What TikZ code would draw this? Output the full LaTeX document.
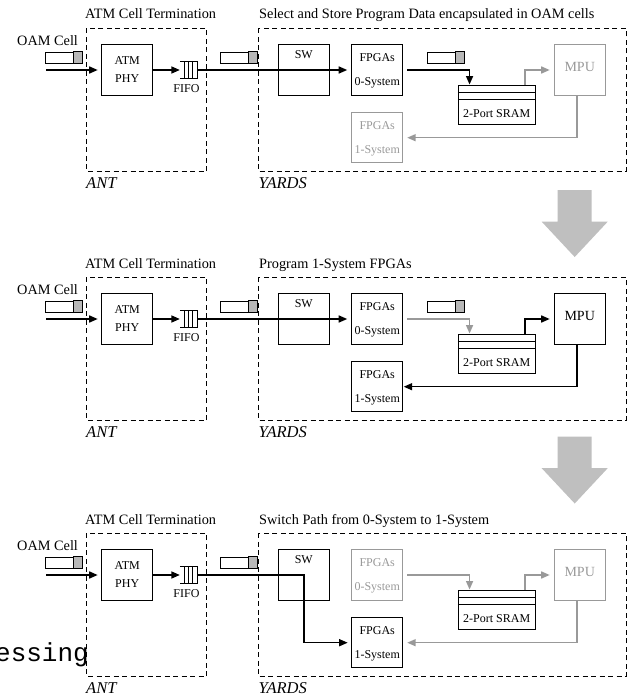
\documentclass[tikz,border=0pt]{standalone}
\usepackage{fontspec}
\setmainfont{Liberation Serif}
\newfontfamily\monofont{Liberation Mono}
\usepackage{xcolor}
\usepackage{tikz}
\usetikzlibrary{arrows.meta}
\definecolor{fadegray}{gray}{0.6}
\definecolor{cellgray}{gray}{0.72}
\definecolor{biggray}{gray}{0.75}

\begin{document}
\begin{tikzpicture}[x=1pt,y=-1pt,>={Triangle[length=8.5pt,width=7pt]},
frame/.style={line width=0.9pt,dash pattern=on 5pt off 3.5pt},
wire/.style={line width=1pt},
blk/.style={draw,line width=1pt,minimum width=51pt,minimum height=50.5pt,inner sep=0pt,align=center,text depth=0pt,font=\fontsize{12}{24}\selectfont},
off/.style={draw=fadegray,text=fadegray},
flow/.style={line width=1.5pt,->},
cell/.style={draw,line width=1pt,minimum width=36.5pt,minimum height=11pt,inner sep=0pt},
cellend/.style={draw,line width=1pt,fill=cellgray},
fifo/.style={inner sep=0pt,minimum width=17.3pt,minimum height=16pt},
boxtext/.style={font=\fontsize{12}{14}\selectfont},
title/.style={anchor=base west,inner sep=0pt,font=\fontsize{14.3}{17}\selectfont},
part/.style={anchor=base west,inner sep=0pt,font=\fontsize{16.5}{20}\selectfont\itshape},
bigarrow/.style={fill=biggray}]
\useasboundingbox(0,0)rectangle(631,696);

% step 1: select and store
\begin{scope}
\node[title](tantA)at(85,19){ATM Cell Termination};
\node[title](tyardsA)at(259,19){Select and Store Program Data encapsulated in OAM cells};
\node[title](toamA)at(17,45){OAM Cell};
\draw[frame](86.7,28.3)rectangle(206.7,171.5);
\draw[frame](258.3,28.3)rectangle(626,171.5);
\node[part](antA)at(86,188){ANT};
\node[part](yardsA)at(258.3,188){YARDS};
\node[cell](cellA1)at(64,57.7){};
\draw[cellend]([xshift=-9pt]cellA1.north east)rectangle(cellA1.south east);
\node[cell](cellA2)at(238.3,57.7){};
\draw[cellend]([xshift=-9pt]cellA2.north east)rectangle(cellA2.south east);
\node[cell](cellA3)at(445.6,57.5){};
\draw[cellend]([xshift=-9pt]cellA3.north east)rectangle(cellA3.south east);
\node[blk,font=\fontsize{12}{18}\selectfont](phyA)at(127.2,70){ATM\\PHY};
\node[fifo](fifoA)at(188.7,70){};
\draw[wire](fifoA.north west)--(fifoA.north east)--(fifoA.south east)--(fifoA.south west);
\foreach \dx in {4.5,8.8,13}\draw[wire]([xshift=\dx pt]fifoA.north west)--([xshift=\dx pt]fifoA.south west);
\node[boxtext,anchor=base](fifotA)at(186.5,92.7){FIFO};
\node[blk,label={[boxtext,anchor=north,yshift=-2.5pt]north:SW}](swA)at(303.8,70){};
\node[blk](fpgaA0)at(377.2,70){FPGAs\\0-System};
\node[blk,off](fpgaA1)at(377.2,137.7){FPGAs\\1-System};
\node[blk,off,font=\fontsize{14}{17}\selectfont,text depth=6.6pt](mpuA)at(579.7,70){MPU};
\node[blk,minimum width=76.7pt,minimum height=39pt,label={[boxtext,anchor=base,yshift=7pt]south:2-Port SRAM}](sramA)at(496.7,104.5){};
\draw[wire]([yshift=-8.3pt]sramA.north west)--([yshift=-8.3pt]sramA.north east)
([yshift=-15pt]sramA.north west)--([yshift=-15pt]sramA.north east);
\coordinate(inA)at(46,70);
\draw[flow,shorten >=3.5pt](inA)--(phyA.west);
\draw[flow](phyA.east)--(fifoA.west);
\draw[flow,shorten >=4pt](fifoA.east)--(fpgaA0.west);
\draw[flow]([xshift=4pt]fpgaA0.east)-|([xshift=11.7pt]sramA.north west);
\draw[flow,fadegray]([xshift=-10.7pt]sramA.north east)|-([xshift=-4pt]mpuA.west);
\draw[flow,fadegray]([xshift=-2.5pt]mpuA.south)|-([xshift=4pt]fpgaA1.east);
\end{scope}
\fill[bigarrow](557.7,190)--(591.7,190)--(591.7,221.7)--(607.7,221.7)--(574.7,257)--(541.7,221.7)--(557.7,221.7)--cycle;

% step 2: program 1-system
\begin{scope}[shift={(0,249)}]
\node[title](tantB)at(85,19){ATM Cell Termination};
\node[title](tyardsB)at(259,19){Program 1-System FPGAs};
\node[title](toamB)at(17,45){OAM Cell};
\draw[frame](86.7,28.3)rectangle(206.7,171.5);
\draw[frame](258.3,28.3)rectangle(626,171.5);
\node[part](antB)at(86,188){ANT};
\node[part](yardsB)at(258.3,188){YARDS};
\node[cell](cellB1)at(64,57.7){};
\draw[cellend]([xshift=-9pt]cellB1.north east)rectangle(cellB1.south east);
\node[cell](cellB2)at(238.3,57.7){};
\draw[cellend]([xshift=-9pt]cellB2.north east)rectangle(cellB2.south east);
\node[cell](cellB3)at(445.6,57.5){};
\draw[cellend]([xshift=-9pt]cellB3.north east)rectangle(cellB3.south east);
\node[blk,font=\fontsize{12}{18}\selectfont](phyB)at(127.2,70){ATM\\PHY};
\node[fifo](fifoB)at(188.7,70){};
\draw[wire](fifoB.north west)--(fifoB.north east)--(fifoB.south east)--(fifoB.south west);
\foreach \dx in {4.5,8.8,13}\draw[wire]([xshift=\dx pt]fifoB.north west)--([xshift=\dx pt]fifoB.south west);
\node[boxtext,anchor=base](fifotB)at(186.5,92.7){FIFO};
\node[blk,label={[boxtext,anchor=north,yshift=-2.5pt]north:SW}](swB)at(303.8,70){};
\node[blk](fpgaB0)at(377.2,70){FPGAs\\0-System};
\node[blk](fpgaB1)at(377.2,137.7){FPGAs\\1-System};
\node[blk,font=\fontsize{14}{17}\selectfont,text depth=6.6pt](mpuB)at(579.7,70){MPU};
\node[blk,minimum width=76.7pt,minimum height=39pt,label={[boxtext,anchor=base,yshift=7pt]south:2-Port SRAM}](sramB)at(496.7,104.5){};
\draw[wire]([yshift=-8.3pt]sramB.north west)--([yshift=-8.3pt]sramB.north east)
([yshift=-15pt]sramB.north west)--([yshift=-15pt]sramB.north east);
\coordinate(inB)at(46,70);
\draw[flow,shorten >=3.5pt](inB)--(phyB.west);
\draw[flow](phyB.east)--(fifoB.west);
\draw[flow,shorten >=4pt](fifoB.east)--(fpgaB0.west);
\draw[flow,fadegray]([xshift=4pt]fpgaB0.east)-|([xshift=11.7pt]sramB.north west);
\draw[flow]([xshift=-10.7pt]sramB.north east)|-([xshift=-4pt]mpuB.west);
\draw[flow]([xshift=-2.5pt]mpuB.south)|-([xshift=0.5pt]fpgaB1.east);
\end{scope}
\fill[bigarrow](557.7,436.5)--(591.7,436.5)--(591.7,468.2)--(607.7,468.2)--(574.7,503.5)--(541.7,468.2)--(557.7,468.2)--cycle;

% step 3: switch path
\begin{scope}[shift={(0,505)}]
\node[title](tantC)at(85,19){ATM Cell Termination};
\node[title](tyardsC)at(259,19){Switch Path from 0-System to 1-System};
\node[title](toamC)at(17,45){OAM Cell};
\draw[frame](86.7,28.3)rectangle(206.7,171.5);
\draw[frame](258.3,28.3)rectangle(626,171.5);
\node[part](antC)at(86,188){ANT};
\node[part](yardsC)at(258.3,188){YARDS};
\node[cell](cellC1)at(64,57.7){};
\draw[cellend]([xshift=-9pt]cellC1.north east)rectangle(cellC1.south east);
\node[cell](cellC2)at(238.3,57.7){};
\draw[cellend]([xshift=-9pt]cellC2.north east)rectangle(cellC2.south east);
\node[blk,font=\fontsize{12}{18}\selectfont](phyC)at(127.2,70){ATM\\PHY};
\node[fifo](fifoC)at(188.7,70){};
\draw[wire](fifoC.north west)--(fifoC.north east)--(fifoC.south east)--(fifoC.south west);
\foreach \dx in {4.5,8.8,13}\draw[wire]([xshift=\dx pt]fifoC.north west)--([xshift=\dx pt]fifoC.south west);
\node[boxtext,anchor=base](fifotC)at(186.5,92.7){FIFO};
\node[blk,label={[boxtext,anchor=north,yshift=-2.5pt]north:SW}](swC)at(303.8,70){};
\node[blk,off](fpgaC0)at(377.2,70){FPGAs\\0-System};
\node[blk](fpgaC1)at(377.2,137.7){FPGAs\\1-System};
\node[blk,off,font=\fontsize{14}{17}\selectfont,text depth=6.6pt](mpuC)at(579.7,70){MPU};
\node[blk,minimum width=76.7pt,minimum height=39pt,label={[boxtext,anchor=base,yshift=7pt]south:2-Port SRAM}](sramC)at(496.7,104.5){};
\draw[wire]([yshift=-8.3pt]sramC.north west)--([yshift=-8.3pt]sramC.north east)
([yshift=-15pt]sramC.north west)--([yshift=-15pt]sramC.north east);
\coordinate(inC)at(46,70);
\draw[flow,shorten >=3.5pt](inC)--(phyC.west);
\draw[flow](phyC.east)--(fifoC.west);
\draw[flow,shorten >=3.5pt](fifoC.east)--(swC.center)|-(fpgaC1.west);
\draw[flow,fadegray]([xshift=4pt]fpgaC0.east)-|([xshift=11.7pt]sramC.north west);
\draw[flow,fadegray]([xshift=-10.7pt]sramC.north east)|-([xshift=-4pt]mpuC.west);
\draw[flow,fadegray]([xshift=-2.5pt]mpuC.south)|-([xshift=4pt]fpgaC1.east);
\end{scope}
\node[anchor=base east,inner sep=0pt,font=\monofont\fontsize{26}{30}\selectfont](essing)at(89,661){essing};
\end{tikzpicture}
\end{document}
